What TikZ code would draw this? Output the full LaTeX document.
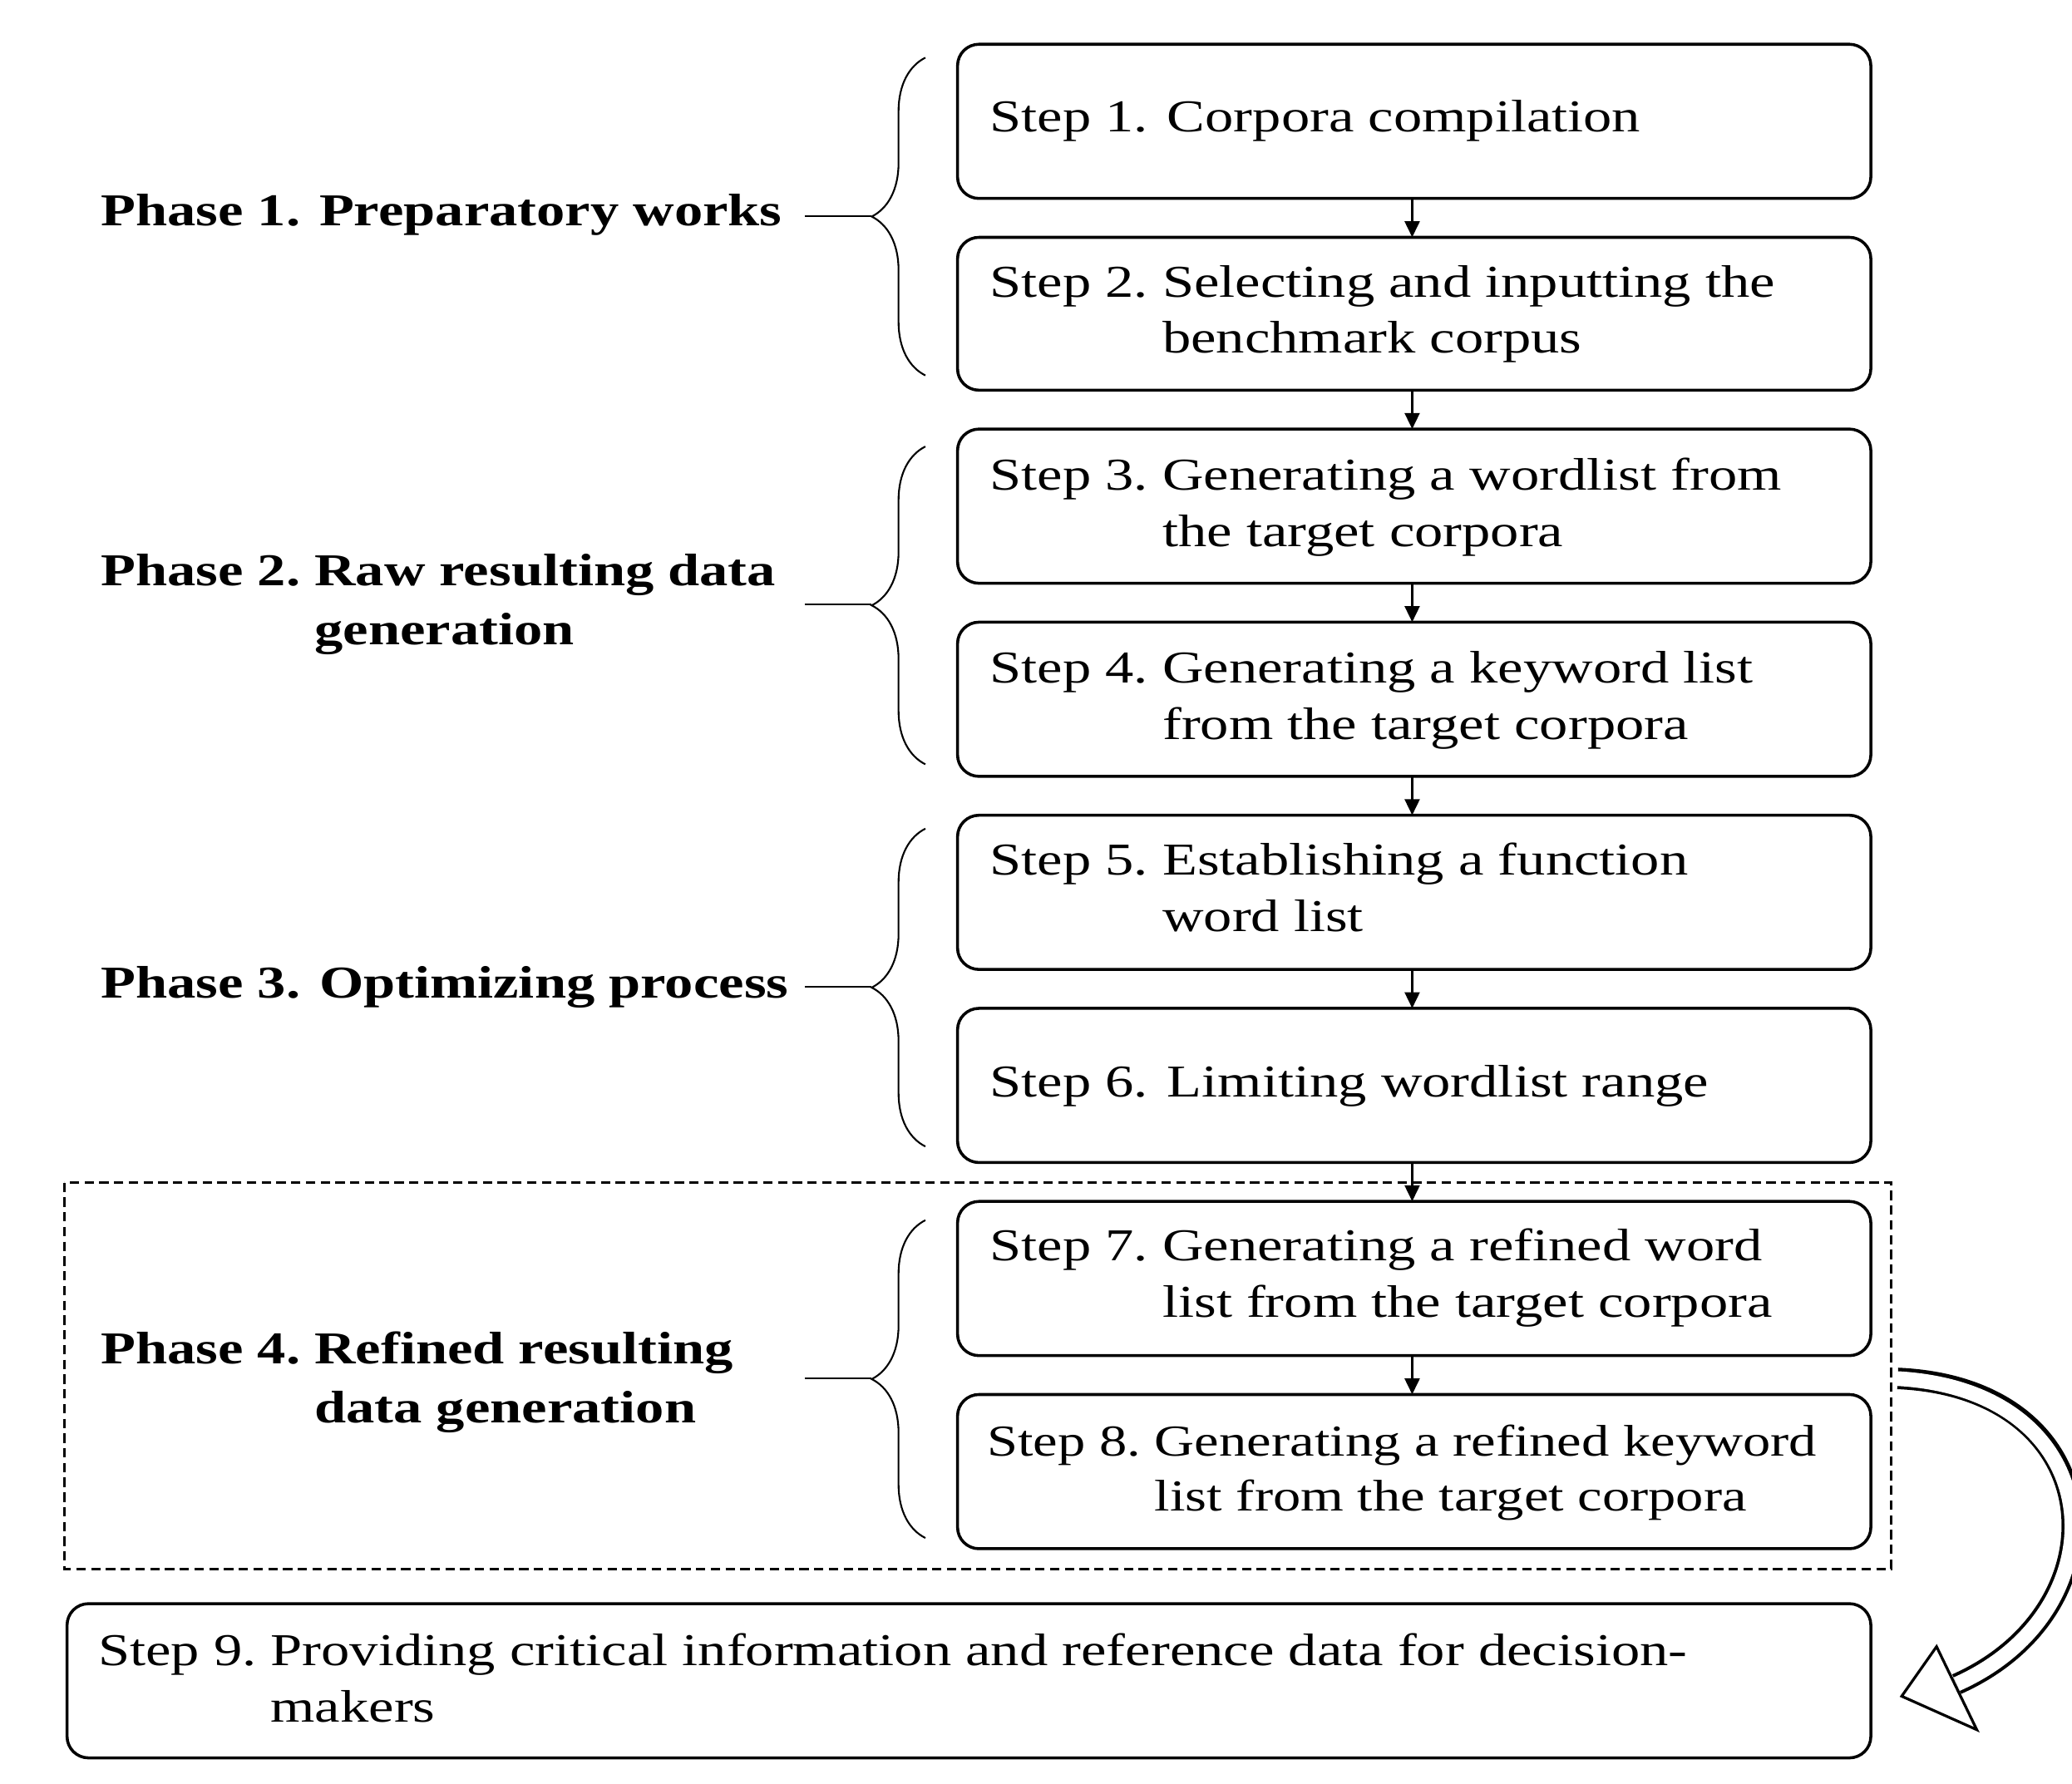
\documentclass[tikz,border=0pt]{standalone}
\usepackage{fontspec}
\setmainfont{Liberation Serif}[FakeStretch=1.25]
\usetikzlibrary{decorations.pathreplacing,arrows.meta}
\begin{document}
\begin{tikzpicture}[x=1pt,y=-1pt,
  box/.style={draw,line width=2.2pt,rounded corners=16pt},
  st/.style={anchor=west,inner sep=0pt,font=\fontsize{34}{42}\selectfont},
  ph/.style={anchor=west,inner sep=0pt,font=\fontsize{34}{44}\selectfont\bfseries},
  ar/.style={line width=2pt,-{Triangle[length=12pt,width=11pt]}},
  br/.style={decorate,decoration={brace,amplitude=40pt,aspect=0.5},line width=1.3pt}]
\useasboundingbox (0,0) rectangle (1545,1330);
\draw[dash pattern=on 7pt off 4pt,line width=1.8pt] (48,882) rectangle (1410,1170);
\foreach \i/\t/\b in {1/33/148,2/177/291,3/320/435,4/464/579,5/608/723,6/752/867,7/896/1011,8/1040/1155}{
  \draw[box] (714,\t) rectangle (1395,\b);
  \coordinate (b\i t) at (1053,\t);
  \coordinate (b\i b) at (1053,\b);
}
\draw[box] (50,1196) rectangle (1395,1311);
\newcommand{\stp}[2]{\begin{tabular}{@{}l@{\ }l@{}}#1&#2\end{tabular}}
\node[st] (s1) at (738,90) {Step 1. Corpora compilation};
\node[st] (s2) at (738,234) {\stp{Step 2.}{Selecting and inputting the\\&benchmark corpus}};
\node[st] (s3) at (738,378) {\stp{Step 3.}{Generating a wordlist from\\&the target corpora}};
\node[st] (s4) at (738,522) {\stp{Step 4.}{Generating a keyword list\\&from the target corpora}};
\node[st] (s5) at (738,665) {\stp{Step 5.}{Establishing a function\\&word list}};
\node[st] (s6) at (738,810) {Step 6. Limiting wordlist range};
\node[st] (s7) at (738,953) {\stp{Step 7.}{Generating a refined word\\&list from the target corpora}};
\node[st,font=\fontsize{33}{41}\selectfont] (s8) at (736,1098) {\stp{Step 8.}{Generating a refined keyword\\&list from the target corpora}};
\node[st] (s9) at (73,1255) {\stp{Step 9.}{Providing critical information and reference data for decision-\\&makers}};
\foreach \a/\b in {1/2,2/3,3/4,4/5,5/6,6/7,7/8}{\draw[ar] (b\a b) -- (b\b t);}
% braces
\draw[br] (690,280) -- (690,43);
\draw[br] (690,570) -- (690,333);
\draw[br] (690,855) -- (690,618);
\draw[br] (690,1147) -- (690,910);
\node[ph] (p1) at (75,160) {Phase 1. Preparatory works};
\node[ph] (p2) at (75,450) {\begin{tabular}{@{}l@{\ }l@{}}Phase 2.&Raw resulting data\\&generation\end{tabular}};
\node[ph] (p3) at (75,736) {Phase 3. Optimizing process};
\node[ph] (p4) at (75,1030) {\begin{tabular}{@{}l@{\ }l@{}}Phase 4.&Refined resulting\\&data generation\end{tabular}};
\coordinate (t1) at (650,161); \coordinate (t2) at (650,451); \coordinate (t3) at (650,736); \coordinate (t4) at (650,1028);
\draw[line width=1.3pt] (600,161) -- (t1);
\draw[line width=1.3pt] (600,451) -- (t2);
\draw[line width=1.3pt] (600,736) -- (t3);
\draw[line width=1.3pt] (600,1028) -- (t4);
% curved hollow arrow
\coordinate (c0) at (1415,1028);
\coordinate (c1) at (1459,1256);
\draw[line width=16pt] (c0) .. controls (1575,1035) and (1585,1200) .. (c1);
\draw[line width=11pt,white] (1412,1028) .. controls (1575,1035) and (1585,1200) .. (c1);
\draw[line width=2pt,fill=white,line join=miter] (1418,1265) -- (1444,1228) -- (1474,1290) -- cycle;
\end{tikzpicture}
\end{document}
